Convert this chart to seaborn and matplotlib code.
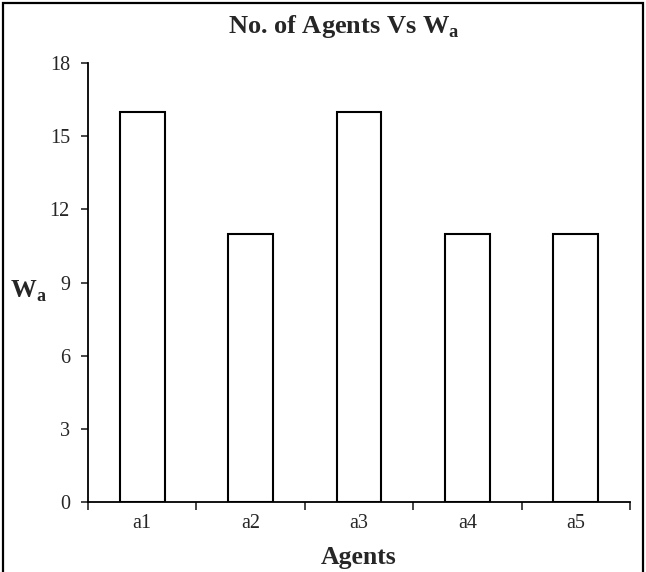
import numpy as np
import pandas as pd
import matplotlib
matplotlib.use("Agg")
import matplotlib.pyplot as plt
import seaborn as sns
from matplotlib.patches import Rectangle

# data
agents = ["a1", "a2", "a3", "a4", "a5"]
wa_values = [16, 11, 16, 11, 11]
y_ticks = [0, 3, 6, 9, 12, 15, 18]

df = pd.DataFrame({"agent": agents, "wa": wa_values})

sns.set_style("white")
plt.rcParams["font.family"] = ["Liberation Serif", "DejaVu Serif"]
plt.rcParams["mathtext.fontset"] = "custom"
plt.rcParams["mathtext.rm"] = "Liberation Serif"
plt.rcParams["mathtext.bf"] = "Liberation Serif:bold"

fig = plt.figure(figsize=(6.46, 5.72), dpi=100)
ax = fig.add_axes([88 / 646, 1 - 502 / 572, (630 - 88) / 646, (502 - 63) / 572])

sns.barplot(data=df, x="agent", y="wa", color="white", edgecolor="black",
            linewidth=1.5, width=0.415, ax=ax, saturation=1)

ax.set_xlim(-0.5, 4.5)
ax.set_ylim(0, 18)
ax.set_yticks(y_ticks)
ax.set_yticklabels([str(v) for v in y_ticks], fontsize=14.5)

# category boundary ticks, labels in the middle
ax.set_xticks(np.arange(-0.5, 5, 1))
ax.set_xticklabels([])
ax.set_xticks(range(len(agents)), minor=True)
ax.set_xticklabels(agents, minor=True, fontsize=14.5)
ax.tick_params(axis="x", which="major", direction="out", length=6, width=1.2, bottom=True)
ax.tick_params(axis="x", which="minor", length=0, pad=9)
ax.tick_params(axis="y", direction="out", length=5, width=1.2, left=True, pad=8)

for side in ["top", "right"]:
    ax.spines[side].set_visible(False)
for side in ["left", "bottom"]:
    ax.spines[side].set_linewidth(1.3)
    ax.spines[side].set_color("black")

ax.set_xlabel("Agents", fontsize=18.5, fontweight="bold", labelpad=9)
ax.set_ylabel("")
fig.text(0.016, 0.49, r"W$_\mathbf{a}$", fontsize=18.5, fontweight="bold",
         va="center", ha="left")
fig.text(344 / 646, 1 - 26 / 572, r"No. of Agents Vs W$_\mathbf{a}$", fontsize=19,
         fontweight="bold", ha="center", va="center")

# chart area border
fig.add_artist(Rectangle((3 / 646, -0.02), 640 / 646, 1 - 3 / 572 + 0.02,
                         transform=fig.transFigure, fill=False,
                         edgecolor="black", linewidth=1.6))

fig.savefig("out.png", dpi=100)
